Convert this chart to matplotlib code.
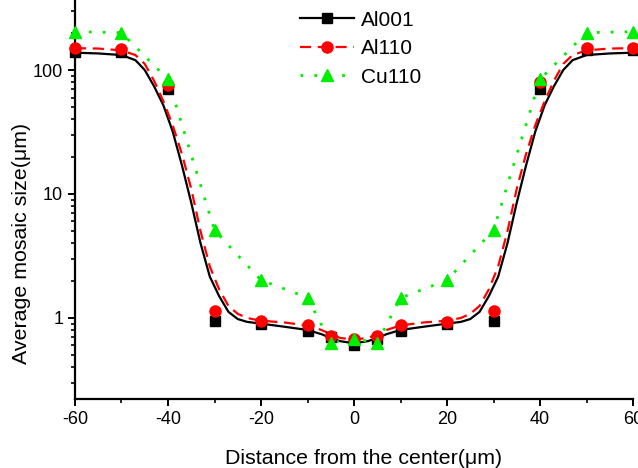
import matplotlib.pyplot as plt
from matplotlib.lines import Line2D
import matplotlib.ticker as mticker

plt.rcParams['font.family'] = ['Liberation Sans', 'DejaVu Sans']
plt.rcParams['axes.unicode_minus'] = False

# measured points
x_pts = [-60, -50, -40, -30, -20, -10, -5, 0, 5, 10, 20, 30, 40, 50, 60]
al001 = [140, 140, 70, 0.95, 0.89, 0.79, 0.70, 0.605, 0.68, 0.79, 0.89, 0.95, 70, 145, 145]
al110 = [151, 148, 76, 1.14, 0.95, 0.88, 0.72, 0.68, 0.72, 0.88, 0.93, 1.14, 80, 150, 150]
cu110 = [204, 200, 84, 5.1, 2.02, 1.46, 0.63, 0.68, 0.63, 1.45, 2.02, 5.1, 84, 200, 204]

# fitted curves
x_fit = [-60, -55, -50, -47, -45, -43, -41, -39, -37, -35, -33, -31, -29, -27, -25, -23,
         -20, -15, -10, -7, -5, -3, 0,
         3, 5, 7, 10, 15, 20, 23, 25, 27, 29, 31, 33, 35, 37, 39, 41, 43, 45, 47, 50, 55, 60]
al001_fit = [138, 136, 132, 120, 100, 74, 52, 32, 17, 8.5, 4.0, 2.15, 1.5, 1.12, 0.98, 0.93,
             0.90, 0.85, 0.80, 0.74, 0.69, 0.65, 0.625,
             0.65, 0.69, 0.74, 0.80, 0.85, 0.90, 0.93, 0.98, 1.12, 1.5, 2.15, 4.0, 8.5, 17, 32, 52, 74, 100, 120, 132, 136, 138]
al110_fit = [150, 149, 144, 132, 112, 82, 56, 36, 21, 11, 5.0, 2.6, 1.7, 1.25, 1.08, 1.0,
             0.95, 0.92, 0.87, 0.80, 0.74, 0.69, 0.67,
             0.69, 0.74, 0.80, 0.87, 0.92, 0.95, 1.0, 1.08, 1.25, 1.7, 2.6, 5.0, 11, 21, 36, 56, 82, 112, 132, 144, 149, 150]

fig = plt.figure(figsize=(6.38, 4.68), dpi=100)
ax = fig.add_axes([75/638, 1 - 399/468, 558/638, 399/468])

ax.plot(x_fit, al001_fit, color='black', lw=1.6, ls='-', zorder=2)
ax.plot(x_fit, al110_fit, color='red', lw=1.6, ls=(0, (5, 3)), zorder=2)
ax.plot(x_pts, cu110, color='#00ee00', lw=2, ls=(0, (1, 4)), zorder=2)

ax.plot(x_pts, al001, 's', color='black', ms=7, ls='none', clip_on=False, zorder=3)
ax.plot(x_pts, al110, 'o', color='red', ms=8, ls='none', clip_on=False, zorder=4)
ax.plot(x_pts, cu110, '^', color='#00ee00', ms=9, ls='none', clip_on=False, zorder=5)

ax.set_yscale('log')
ax.set_xlim(-60, 60)
ax.set_ylim(0.222, 367)

ax.set_xticks([-60, -40, -20, 0, 20, 40, 60])
ax.xaxis.set_minor_locator(mticker.MultipleLocator(10))
ax.yaxis.set_major_locator(mticker.FixedLocator([1, 10, 100]))
ax.yaxis.set_major_formatter(mticker.FixedFormatter(['1', '10', '100']))
ax.yaxis.set_minor_locator(mticker.LogLocator(base=10, subs=range(2, 10)))
ax.yaxis.set_minor_formatter(mticker.NullFormatter())

for s in ['top', 'right']:
    ax.spines[s].set_visible(False)
for s in ['left', 'bottom']:
    ax.spines[s].set_linewidth(1.6)

ax.tick_params(which='major', direction='out', length=5, width=1.4, labelsize=13)
ax.tick_params(which='minor', direction='out', length=3, width=1.2)

ax.set_xlabel('Distance from the center(\u03bcm)', fontsize=15.4, va='center', ha='center')
ax.set_ylabel('Average mosaic size(\u03bcm)', fontsize=15.4, va='center', ha='center')
ax.xaxis.set_label_coords(0.517, -59/399)
ax.yaxis.set_label_coords(-53/558, 0.39)

handles = [
    Line2D([], [], color='black', lw=1.6, ls='-', marker='s', ms=7),
    Line2D([], [], color='red', lw=1.6, ls=(0, (5, 3)), marker='o', ms=8),
    Line2D([], [], color='#00ee00', lw=2, ls=(0, (1, 4)), marker='^', ms=9),
]
ax.legend(handles, ['Al001', 'Al110', 'Cu110'], loc='upper left', bbox_to_anchor=(0.37, 1.02),
          frameon=False, fontsize=15, handlelength=2.6, handletextpad=0.3, labelspacing=0.45)

fig.savefig('out.png', dpi=100)
